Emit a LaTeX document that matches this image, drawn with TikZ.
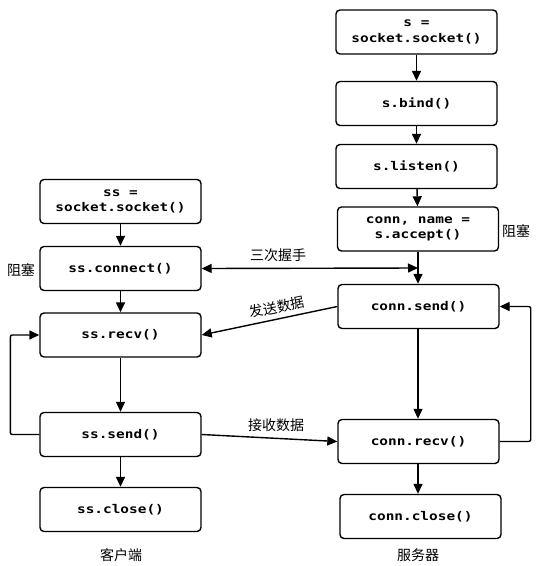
\documentclass[tikz,border=0pt]{standalone}
\usepackage{fontspec}
\newfontfamily\cjk{Noto Sans CJK SC}
\newfontfamily\codefont[FakeStretch=1.2]{DejaVu Sans Mono}
\usetikzlibrary{arrows.meta}
\begin{document}
\begin{tikzpicture}[x=1pt,y=-1pt,
  box/.style={draw, line width=1.4pt, rounded corners=4pt, minimum width=161pt, minimum height=44pt,
    inner sep=0pt, align=center, font=\codefont\bfseries\fontsize{12}{15.5}\selectfont},
  tip/.style={Triangle[length=10pt,width=9pt]},
  arr/.style={-{Triangle[length=10pt,width=9pt]}, line width=1.4pt},
  thinarr/.style={-{Triangle[length=10pt,width=9pt]}, line width=0.8pt},
  lbl/.style={font=\cjk\fontsize{14}{16}\selectfont, inner sep=0pt}]
\useasboundingbox (0,0) rectangle (541,566);
% client
\node[box] (sssock) at (120.5,201.5) {ss =\\socket.socket()};
\node[box] (ssconn) at (120.5,268.5) {ss.connect()};
\node[box] (ssrecv) at (120.5,335) {ss.recv()};
\node[box] (sssend) at (120.5,434.5) {ss.send()};
\node[box] (ssclose) at (120.5,509.5) {ss.close()};
% server
\node[box] (ssock) at (416.5,32) {s =\\socket.socket()};
\node[box] (sbind) at (416.5,103.5) {s.bind()};
\node[box] (slisten) at (416.5,166.5) {s.listen()};
\node[box] (saccept) at (418,229) {conn, name =\\s.accept()};
\node[box] (csend) at (418.5,306.5) {conn.send()};
\node[box] (crecv) at (418.5,441.5) {conn.recv()};
\node[box] (cclose) at (420.5,516.5) {conn.close()};
% labels
\node[lbl] (blk1) at (21,270) {阻塞};
\node[lbl] (blk2) at (516,231) {阻塞};
\node[lbl] (hs) at (278,255) {三次握手};
\node[lbl, rotate=11.6] (snd) at (277,307) {发送数据};
\node[lbl] (rcv) at (276,425) {接收数据};
\node[lbl] (cli) at (121,555) {客户端};
\node[lbl] (srv) at (418,555) {服务器};
% client arrows
\draw[arr] (sssock) -- (ssconn);
\draw[arr] (ssconn) -- (ssrecv);
\draw[thinarr] (ssrecv) -- (sssend);
\draw[arr] (sssend) -- (ssclose);
\draw[arr, rounded corners=2pt] (sssend.west) -- ++(-29,0) |- (ssrecv.west);
% server arrows
\draw[arr] (ssock) -- (sbind);
\draw[arr] (sbind) -- (slisten);
\draw[arr] (slisten) -- (saccept);
\coordinate (hsend) at (418,268);
\draw[arr] (saccept.south -| hsend) -- (csend.north -| hsend);
\draw[arr] (csend.south -| hsend) -- (crecv.north -| hsend);
\draw[arr] (crecv.south -| hsend) -- (cclose.north -| hsend);
\draw[arr, rounded corners=2pt] (crecv.east) -- ++(31,0) |- (csend.east);
% cross arrows
\draw[{Triangle[length=10pt,width=9pt]}-{Triangle[length=10pt,width=9pt]}, line width=1.4pt] (ssconn.east) -- (hsend);
\draw[arr] (csend.west) -- (ssrecv.east);
\draw[arr] (sssend.east) -- (crecv.west);
\end{tikzpicture}
\end{document}
